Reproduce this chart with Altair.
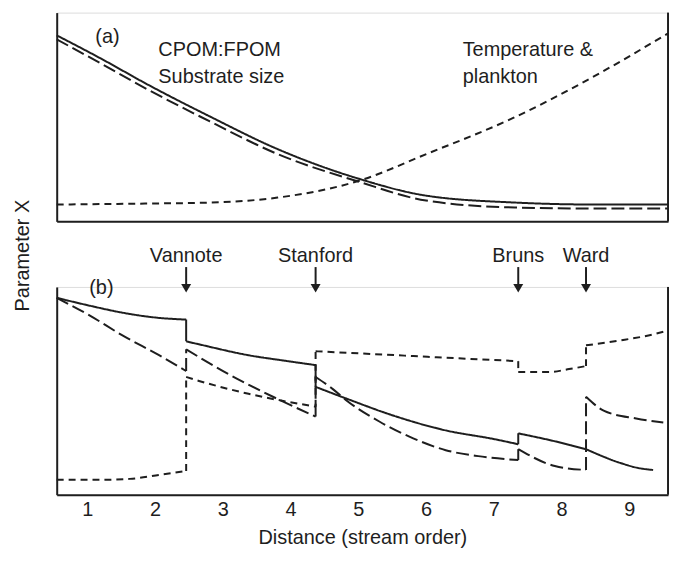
import altair as alt
import pandas as pd

INK = "#1e1e1e"
FONT = "Liberation Sans"

# ---- x domain (stream order) ----
x_min, x_max = 0.55, 9.57
order_ticks = [1, 2, 3, 4, 5, 6, 7, 8, 9]

# ---- Panel (a): smooth trends ----
order_a = [0.55, 1.19, 1.90, 2.81, 3.81, 5.01, 6.00, 7.31, 8.51, 9.57]
cpom_a = [188, 165, 138, 106, 73, 43, 26, 19, 17, 17]
substrate_a = [184, 160, 133, 101, 68, 40, 21, 14, 13, 13]
temp_order_a = [0.55, 1.90, 2.81, 3.81, 5.01, 6.04, 7.27, 8.33, 9.57]
temp_a = [17, 18, 19, 24, 41, 69, 104, 141, 190]

# ---- Panel (b): discontinuous trends (segments between studies) ----
cpom_b_orders = [[0.55, 1.04, 1.52, 2.02, 2.46],
                 [2.46, 2.65, 3.38, 3.96, 4.37],
                 [4.37, 4.83, 5.56, 6.29, 7.02, 7.36],
                 [7.36, 7.90, 8.36],
                 [8.36, 8.87, 9.13, 9.35]]
cpom_b_values = [[199, 191, 184, 179, 177],
                 [155, 152, 141, 135, 131],
                 [109, 97, 79, 65, 56, 51],
                 [62, 54, 46],
                 [46, 32, 27, 25]]

substrate_b_orders = [[0.55, 1.04, 1.52, 2.06, 2.46],
                      [2.46, 3.08, 3.74, 4.37],
                      [4.37, 4.62, 4.83, 5.31, 5.81, 6.29, 6.77, 7.36],
                      [7.36, 7.90, 8.36],
                      [8.36, 8.62, 9.10, 9.50]]
substrate_b_values = [[199, 181, 161, 141, 125],
                      [147, 122, 99, 79],
                      [119, 107, 95, 74, 57, 45, 39, 35],
                      [46, 29, 25],
                      [99, 85, 77, 73]]

temp_b_orders = [[0.55, 1.19, 1.63, 2.06, 2.46],
                 [2.46, 2.65, 3.38, 4.37],
                 [4.37, 5.56, 6.43, 7.36],
                 [7.36, 7.82, 8.11, 8.36],
                 [8.36, 8.87, 9.28, 9.57]]
temp_b_values = [[15, 15, 16, 20, 24],
                 [119, 115, 102, 89],
                 [145, 141, 138, 135],
                 [124, 124, 127, 130],
                 [151, 156, 161, 166]]

study_names = ["Vannote", "Stanford", "Bruns", "Ward"]
study_orders = [2.46, 4.37, 7.36, 8.36]

series_names = ["CPOM:FPOM", "Substrate size", "Temperature & plankton"]
series_dash = [[1, 0], [13, 5], [7, 5]]

# annotation texts
ann_a_text = ["(a)", "CPOM:FPOM", "Substrate size", "Temperature &", "plankton"]
ann_a_x = [1.12, 2.05, 2.05, 6.54, 6.54]
ann_a_y = [186, 173, 146, 173, 146]
ann_b_text = ["(b)"]
ann_b_x = [1.03]
ann_b_y = [209]


def build(series, orders, values):
    rows = []
    seg = 0
    prev = None
    for os_, vs in zip(orders, values):
        if prev is not None and prev[1] != vs[0]:
            seg += 1
            rows.append((series, f"{series}-{seg}", 0, prev[0], prev[1]))
            rows.append((series, f"{series}-{seg}", 1, os_[0], vs[0]))
        seg += 1
        for i, (o, v) in enumerate(zip(os_, vs)):
            rows.append((series, f"{series}-{seg}", i, o, v))
        prev = (os_[-1], vs[-1])
    return rows


rows_a = (build(series_names[0], [order_a], [cpom_a])
          + build(series_names[1], [order_a], [substrate_a])
          + build(series_names[2], [temp_order_a], [temp_a]))
rows_b = (build(series_names[0], cpom_b_orders, cpom_b_values)
          + build(series_names[1], substrate_b_orders, substrate_b_values)
          + build(series_names[2], temp_b_orders, temp_b_values))
cols = ["series", "seg", "idx", "order", "value"]
df_a = pd.DataFrame(rows_a, columns=cols)
df_b = pd.DataFrame(rows_b, columns=cols)
df_ann_a = pd.DataFrame({"text": ann_a_text, "order": ann_a_x, "value": ann_a_y})
df_ann_b = pd.DataFrame({"text": ann_b_text, "order": ann_b_x, "value": ann_b_y})
df_studies = pd.DataFrame({"name": study_names, "order": study_orders})
df_edge = pd.DataFrame({"order": [x_max]})

W = 615
H_A = 210
H_B = 209
YMAX_A = 211
YMAX_B = 210

xscale = alt.Scale(domain=[x_min, x_max], nice=False, zero=False)
dash_enc = alt.StrokeDash("series:N", scale=alt.Scale(domain=series_names, range=series_dash), legend=None)

axis_common = dict(grid=False, ticks=False, domainColor=INK, domainWidth=2)

# ---------- panel (a) ----------
lines_a = alt.Chart(df_a).mark_line(interpolate="monotone", strokeWidth=2, color=INK).encode(
    x=alt.X("order:Q", scale=xscale, title=None, axis=alt.Axis(labels=False, **axis_common)),
    y=alt.Y("value:Q", scale=alt.Scale(domain=[0, YMAX_A], nice=False, zero=False),
            title="Parameter X",
            axis=alt.Axis(labels=False, titleX=-34, titleY=244, titleAngle=270,
                          titleBaseline="middle", titleAlign="center",
                          titleFontSize=20, titleFontWeight="normal", titleColor=INK,
                          titleFont=FONT, **axis_common)),
    detail="seg:N",
    order="idx:Q",
    strokeDash=dash_enc,
)
edge_a = alt.Chart(df_edge).mark_rule(color=INK, strokeWidth=2).encode(
    x="order:Q", y=alt.value(0), y2=alt.value(H_A))
text_a = alt.Chart(df_ann_a).mark_text(align="left", baseline="middle", fontSize=20,
                                       font=FONT, color=INK).encode(
    x="order:Q", y="value:Q", text="text:N")
top = alt.layer(lines_a, edge_a, text_a).properties(width=W, height=H_A)

# ---------- panel (b) ----------
lines_b = alt.Chart(df_b).mark_line(interpolate="monotone", strokeWidth=2, color=INK).encode(
    x=alt.X("order:Q", scale=xscale, title="Distance (stream order)",
            axis=alt.Axis(values=order_ticks, format="d", labelFontSize=20, labelFont=FONT,
                          labelColor=INK, labelPadding=5, titleFontSize=20, titleFont=FONT,
                          titleFontWeight="normal", titleColor=INK, titlePadding=8,
                          **axis_common)),
    y=alt.Y("value:Q", scale=alt.Scale(domain=[0, YMAX_B], nice=False, zero=False), title=None,
            axis=alt.Axis(labels=False, **axis_common)),
    detail="seg:N",
    order="idx:Q",
    strokeDash=dash_enc,
)
edge_b = alt.Chart(df_edge).mark_rule(color=INK, strokeWidth=2).encode(
    x="order:Q", y=alt.value(0), y2=alt.value(H_B))
text_b = alt.Chart(df_ann_b).mark_text(align="left", baseline="middle", fontSize=20,
                                       font=FONT, color=INK).encode(
    x="order:Q", y="value:Q", text="text:N")
study_text = alt.Chart(df_studies).mark_text(align="center", baseline="middle", fontSize=20,
                                             font=FONT, color=INK).encode(
    x="order:Q", y=alt.value(-31), text="name:N")
study_shaft = alt.Chart(df_studies).mark_rule(color=INK, strokeWidth=2).encode(
    x="order:Q", y=alt.value(-20), y2=alt.value(-2))
study_head = alt.Chart(df_studies).mark_point(shape="triangle-down", filled=True, size=100,
                                              color=INK, opacity=1).encode(
    x="order:Q", y=alt.value(1.3))
bottom = alt.layer(lines_b, edge_b, text_b, study_text, study_shaft, study_head).properties(
    width=W, height=H_B)

chart = alt.vconcat(top, bottom, spacing=66, bounds="flush").properties(
    padding={"left": 4, "top": 1, "right": 0, "bottom": 0}
).configure_view(strokeWidth=0).configure(background="white")

chart.save("out.html", embed_options={"renderer": "svg", "actions": False})
